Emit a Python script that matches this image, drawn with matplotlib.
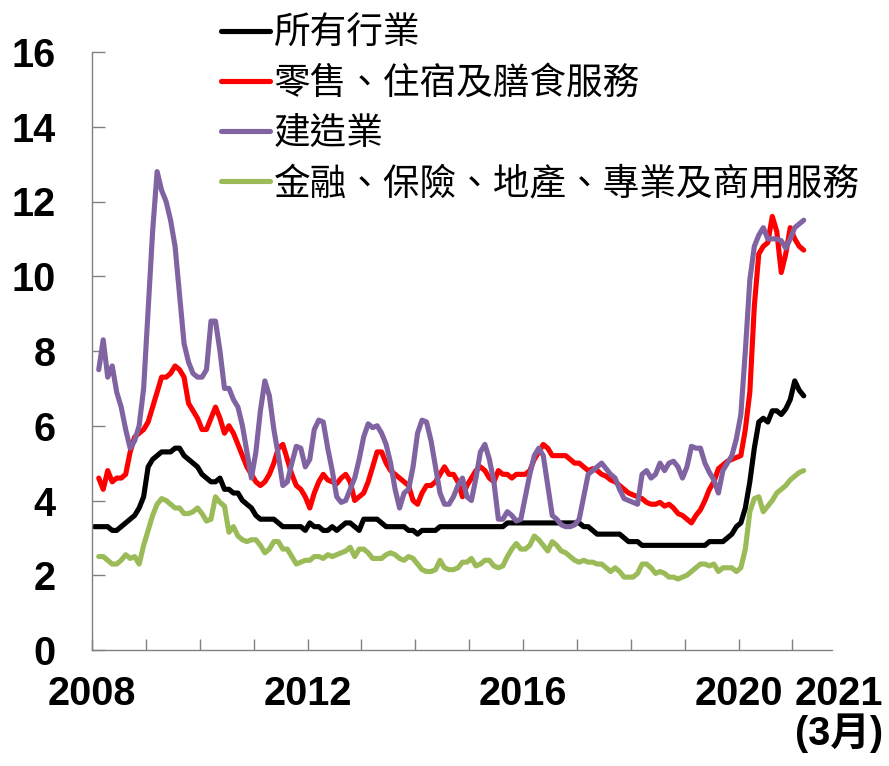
import matplotlib.pyplot as plt
import numpy as np

# monthly unemployment rate (%), Jan 2008 - Mar 2021
all_industries = [
    3.3, 3.3, 3.3, 3.3, 3.2, 3.2, 3.3, 3.4, 3.5, 3.6, 3.8, 4.1,
    4.9, 5.1, 5.2, 5.3, 5.3, 5.3, 5.4, 5.4, 5.2, 5.1, 5.0, 4.9,
    4.7, 4.6, 4.5, 4.5, 4.6, 4.3, 4.3, 4.2, 4.2, 4.0, 3.9, 3.8,
    3.6, 3.5, 3.5, 3.5, 3.5, 3.4, 3.3, 3.3, 3.3, 3.3, 3.3, 3.2,
    3.4, 3.3, 3.3, 3.2, 3.2, 3.3, 3.2, 3.3, 3.4, 3.4, 3.3, 3.2,
    3.5, 3.5, 3.5, 3.5, 3.4, 3.3, 3.3, 3.3, 3.3, 3.3, 3.2, 3.2,
    3.1, 3.2, 3.2, 3.2, 3.2, 3.3, 3.3, 3.3, 3.3, 3.3, 3.3, 3.3,
    3.3, 3.3, 3.3, 3.3, 3.3, 3.3, 3.3, 3.3, 3.4, 3.4, 3.4, 3.4,
    3.4, 3.4, 3.4, 3.4, 3.4, 3.4, 3.4, 3.4, 3.4, 3.4, 3.4, 3.4,
    3.4, 3.3, 3.3, 3.2, 3.1, 3.1, 3.1, 3.1, 3.1, 3.1, 3.0, 2.9,
    2.9, 2.9, 2.8, 2.8, 2.8, 2.8, 2.8, 2.8, 2.8, 2.8, 2.8, 2.8,
    2.8, 2.8, 2.8, 2.8, 2.8, 2.9, 2.9, 2.9, 2.9, 3.0, 3.1, 3.3,
    3.4, 3.8, 4.5, 5.4, 6.1, 6.2, 6.1, 6.4, 6.4, 6.3, 6.45, 6.7,
    7.2, 6.95, 6.8,
]

# sector series start Feb 2008
retail = [
    4.6, 4.3, 4.8, 4.5, 4.6, 4.6, 4.7, 5.3, 5.7, 5.8, 5.9,
    6.1, 6.5, 6.9, 7.3, 7.3, 7.4, 7.6, 7.5, 7.3, 6.6, 6.4, 6.2,
    5.9, 5.9, 6.2, 6.5, 6.2, 5.8, 6.0, 5.8, 5.5, 5.2, 4.9, 4.7,
    4.5, 4.4, 4.5, 4.7, 5.0, 5.4, 5.5, 5.1, 4.7, 4.4, 4.3, 4.1,
    3.8, 4.2, 4.5, 4.7, 4.55, 4.5, 4.45, 4.6, 4.7, 4.5, 4.0, 4.1,
    4.2, 4.5, 4.9, 5.3, 5.3, 5.0, 4.8, 4.7, 4.6, 4.5, 4.4, 4.0,
    3.9, 4.2, 4.4, 4.4, 4.5, 4.7, 4.9, 4.7, 4.7, 4.5, 4.1, 4.4,
    4.6, 4.8, 4.9, 4.8, 4.6, 4.5, 4.8, 4.7, 4.7, 4.6, 4.7, 4.7,
    4.7, 4.8, 5.1, 5.3, 5.5, 5.4, 5.2, 5.2, 5.2, 5.2, 5.1, 5.0,
    5.0, 4.9, 4.8, 4.85, 4.8, 4.7, 4.65, 4.55, 4.5, 4.4, 4.3, 4.2,
    4.15, 4.1, 4.05, 3.95, 3.9, 3.9, 3.95, 3.85, 3.9, 3.8, 3.65, 3.6,
    3.5, 3.4, 3.6, 3.75, 4.0, 4.3, 4.5, 4.85, 4.95, 5.05, 5.1, 5.15,
    5.2, 5.9, 6.9, 9.2, 10.6, 10.8, 10.9, 11.6, 11.2, 10.1, 10.6, 11.3,
    11.0, 10.8, 10.7,
]

construction = [
    7.5, 8.3, 7.3, 7.6, 6.9, 6.5, 5.9, 5.4, 5.6, 6.0, 7.0,
    9.1, 11.2, 12.8, 12.3, 12.0, 11.5, 10.8, 9.5, 8.2, 7.7, 7.4, 7.3,
    7.3, 7.5, 8.8, 8.8, 8.0, 7.0, 7.0, 6.7, 6.5, 6.0, 5.3, 4.6,
    5.3, 6.4, 7.2, 6.8, 5.9, 5.2, 4.4, 4.5, 5.0, 5.45, 5.4, 4.9,
    5.1, 5.9, 6.15, 6.1, 5.4, 4.8, 4.1, 3.95, 4.0, 4.3, 4.6, 5.1,
    5.7, 6.05, 5.95, 6.0, 5.8, 5.5, 5.0, 4.3, 3.8, 4.2, 4.3, 4.9,
    5.8, 6.15, 6.1, 5.6, 4.9, 4.2, 3.9, 3.9, 4.1, 4.4, 4.6, 4.1,
    4.0, 4.6, 5.3, 5.5, 5.1, 4.5, 3.5, 3.5, 3.7, 3.6, 3.45, 3.5,
    4.1, 4.7, 5.2, 5.4, 5.2, 4.4, 3.6, 3.5, 3.35, 3.3, 3.3, 3.35,
    3.5, 4.1, 4.7, 4.8, 4.9, 5.0, 4.85, 4.7, 4.6, 4.3, 4.05, 4.0,
    3.95, 3.9, 4.7, 4.8, 4.6, 4.7, 5.0, 4.8, 5.0, 5.05, 4.9, 4.6,
    4.9, 5.45, 5.4, 5.4, 5.0, 4.75, 4.55, 4.2, 4.8, 5.0, 5.2, 5.65,
    6.3, 8.0, 9.9, 10.8, 11.1, 11.3, 11.0, 11.0, 11.0, 10.95, 10.75, 11.0,
    11.3, 11.4, 11.5,
]

finance = [
    2.5, 2.5, 2.4, 2.3, 2.3, 2.4, 2.55, 2.45, 2.5, 2.3, 2.8,
    3.2, 3.6, 3.9, 4.05, 4.0, 3.9, 3.8, 3.8, 3.65, 3.65, 3.7, 3.8,
    3.65, 3.45, 3.5, 4.1, 3.95, 3.85, 3.15, 3.3, 3.05, 2.95, 2.9, 2.95,
    2.95, 2.8, 2.6, 2.7, 2.9, 2.9, 2.7, 2.7, 2.5, 2.3, 2.35, 2.4,
    2.4, 2.5, 2.5, 2.45, 2.55, 2.5, 2.55, 2.6, 2.65, 2.75, 2.5, 2.7,
    2.7, 2.6, 2.45, 2.45, 2.45, 2.55, 2.6, 2.55, 2.45, 2.4, 2.5, 2.45,
    2.3, 2.15, 2.1, 2.1, 2.15, 2.4, 2.2, 2.15, 2.15, 2.2, 2.35, 2.35,
    2.45, 2.25, 2.3, 2.4, 2.4, 2.25, 2.2, 2.25, 2.5, 2.7, 2.85, 2.7,
    2.7, 2.8, 3.05, 2.95, 2.8, 2.65, 2.9, 2.8, 2.65, 2.6, 2.5, 2.4,
    2.35, 2.4, 2.35, 2.35, 2.3, 2.3, 2.2, 2.1, 2.2, 2.1, 1.95, 1.95,
    1.95, 2.05, 2.3, 2.3, 2.2, 2.05, 2.1, 2.05, 1.95, 1.95, 1.9, 1.95,
    2.0, 2.1, 2.2, 2.3, 2.3, 2.25, 2.3, 2.1, 2.2, 2.2, 2.2, 2.1,
    2.2, 2.7, 3.7, 4.05, 4.1, 3.7, 3.85, 4.0, 4.2, 4.3, 4.4, 4.55,
    4.65, 4.75, 4.8,
]

labels = ['所有行業', '零售、住宿及膳食服務', '建造業', '金融、保險、地產、專業及商用服務']
colors = ['#000000', '#FF0000', '#8064A2', '#9BBB59']
year_labels = ['2008', '', '', '', '2012', '', '', '', '2016', '', '', '', '2020', '']

cjk = ['Noto Sans CJK TC', 'DejaVu Sans']
num_font = ['Liberation Sans', 'Noto Sans CJK TC']

months = np.arange(len(all_industries))

fig = plt.figure(figsize=(8.89, 7.66), dpi=100)
ax = fig.add_axes([92/889, 116/766, 740/889, 598/766])

series = [
    (months, all_industries),
    (months[1:], retail),
    (months[1:], construction),
    (months[1:], finance),
]
for (x, y), label, c in zip(series, labels, colors):
    ax.plot(x, y, color=c, lw=3.7, label=label,
            solid_joinstyle='round', solid_capstyle='round')

ax.set_xlim(-0.5, 164.3)
ax.set_ylim(0, 16)

# year ticks sit between December and January
ax.set_xticks(np.arange(len(year_labels)) * 12 - 0.5)
ax.set_xticklabels(year_labels, fontsize=28.5, fontweight='bold', family=num_font)
ax.set_yticks(np.arange(0, 17, 2))
ax.set_yticklabels([str(v) for v in range(0, 17, 2)], fontsize=28.5,
                   fontweight='bold', family=num_font)
ax.tick_params(axis='x', direction='in', length=8, width=1, color='#808080', pad=18)
ax.tick_params(axis='y', direction='in', length=9, width=1, color='#808080', pad=26)

for side in ['top', 'right']:
    ax.spines[side].set_visible(False)
for side in ['left', 'bottom']:
    ax.spines[side].set_color('#808080')
    ax.spines[side].set_linewidth(1)

ax.annotate('2021\n(3月)', xy=(165.9, 0), xycoords=('data', 'axes fraction'),
            xytext=(0, -18), textcoords='offset points', ha='center', va='top',
            fontsize=28.5, fontweight='bold', family=num_font, linespacing=1.0,
            annotation_clip=False)

leg = ax.legend(loc='upper left', bbox_to_anchor=(221/889, 1 - 14/766),
                bbox_transform=fig.transFigure, frameon=False,
                prop={'family': cjk, 'size': 26.4}, handlelength=1.33,
                handletextpad=0.1, labelspacing=0.3, borderpad=0, borderaxespad=0)
for line in leg.get_lines():
    line.set_linewidth(3.7)
    line.set_solid_capstyle('round')

plt.savefig('out.png', dpi=100)
